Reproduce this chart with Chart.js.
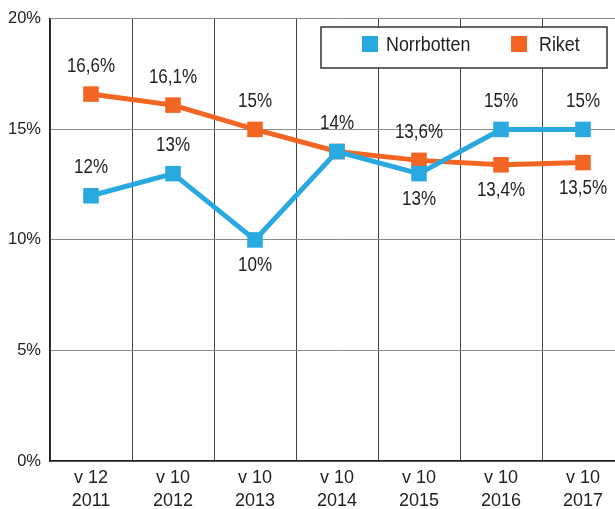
<!DOCTYPE html>
<html>
<head>
<meta charset="utf-8">
<script src="https://cdn.jsdelivr.net/npm/chart.js@4/dist/chart.umd.min.js"></script>
<style>
html,body{margin:0;padding:0;overflow:hidden;background:#fff;}
#c{display:block;}
</style>
</head>
<body>
<canvas id="c" width="624" height="509" style="width:624px;height:509px"></canvas>
<script>
const categories = [['v 12','2011'],['v 10','2012'],['v 10','2013'],['v 10','2014'],['v 10','2015'],['v 10','2016'],['v 10','2017']];
const norrbotten = [12, 13, 10, 14, 13, 15, 15];
const riket = [16.6, 16.1, 15, 14, 13.6, 13.4, 13.5];
const norrLabelPos = ['above','above','below','above','below','above','above'];
const riketLabelPos = ['above','above','above','none','above','below','below'];
const yTicks = [0, 5, 10, 15, 20];

const FONT = "'Liberation Sans', Arial, sans-serif";
const BLUE = '#29a9e0';
const ORANGE = '#f26522';
const SQUEEZE = 0.85;

function fmt(v){ return String(v).replace('.', ',') + '%'; }

function narrowText(ctx, text, x, y, align){
  ctx.save();
  ctx.translate(x, y);
  ctx.scale(SQUEEZE, 1);
  ctx.textAlign = align;
  ctx.fillText(text, 0, 0);
  ctx.restore();
}

const labelPlugin = {
  id: 'pointLabels',
  afterDatasetsDraw(chart){
    const ctx = chart.ctx;
    ctx.save();
    ctx.font = '20px ' + FONT;
    ctx.fillStyle = '#222';
    ctx.textBaseline = 'middle';
    chart.data.datasets.forEach((ds, di) => {
      const meta = chart.getDatasetMeta(di);
      const pos = ds.labelPos;
      meta.data.forEach((pt, i) => {
        if (pos[i] === 'none') return;
        const dy = pos[i] === 'above' ? -28 : 26;
        narrowText(ctx, fmt(ds.data[i]), pt.x, pt.y + dy, 'center');
      });
    });
    ctx.restore();
  }
};

const legendPlugin = {
  id: 'boxLegend',
  afterDraw(chart){
    const ctx = chart.ctx;
    ctx.save();
    const x = 321, y = 27, w = 286, h = 41;
    ctx.fillStyle = '#fff';
    ctx.fillRect(x, y, w, h);
    ctx.strokeStyle = '#333';
    ctx.lineWidth = 1.5;
    ctx.strokeRect(x, y, w, h);
    ctx.font = '21px ' + FONT;
    ctx.textBaseline = 'middle';
    const items = [
      {sx: 362, tx: 386, ds: chart.data.datasets[0]},
      {sx: 511, tx: 539, ds: chart.data.datasets[1]}
    ];
    items.forEach(it => {
      ctx.fillStyle = it.ds.borderColor;
      ctx.fillRect(it.sx, 36, 16, 16);
      ctx.fillStyle = '#222';
      narrowText(ctx, it.ds.label, it.tx, 45, 'left');
    });
    ctx.restore();
  }
};

new Chart(document.getElementById('c'), {
  type: 'line',
  data: {
    labels: categories,
    datasets: [
      {label: 'Norrbotten', data: norrbotten, labelPos: norrLabelPos,
       borderColor: BLUE, backgroundColor: BLUE, borderWidth: 5,
       pointStyle: 'rect', pointRadius: 11, pointHoverRadius: 11, pointBorderWidth: 0},
      {label: 'Riket', data: riket, labelPos: riketLabelPos,
       borderColor: ORANGE, backgroundColor: ORANGE, borderWidth: 5,
       pointStyle: 'rect', pointRadius: 11, pointHoverRadius: 11, pointBorderWidth: 0}
    ]
  },
  options: {
    responsive: false,
    animation: false,
    events: [],
    layout: {autoPadding: false, padding: {top: 17, right: 0, left: 0, bottom: 0}},
    plugins: {legend: {display: false}, tooltip: {enabled: false}},
    scales: {
      x: {
        offset: true,
        grid: {offset: true, color: '#444', lineWidth: 1, drawTicks: false},
        border: {display: true, color: '#222', width: 1.5},
        ticks: {color: '#222', font: {family: FONT, size: 18, lineHeight: 1.25}, padding: 6, maxRotation: 0, autoSkip: false},
        afterFit(s){ s.height = 48; }
      },
      y: {
        min: 0, max: 20,
        afterBuildTicks(s){ s.ticks = yTicks.map(v => ({value: v})); },
        grid: {color: '#8a8a8a', lineWidth: 1, drawTicks: false},
        border: {display: true, color: '#222', width: 1.5},
        ticks: {color: '#222', font: {family: FONT, size: 16.5}, padding: 9, callback: v => v + '%'},
        afterFit(s){ s.width = 50; }
      }
    }
  },
  plugins: [labelPlugin, legendPlugin]
});
</script>
</body>
</html>
